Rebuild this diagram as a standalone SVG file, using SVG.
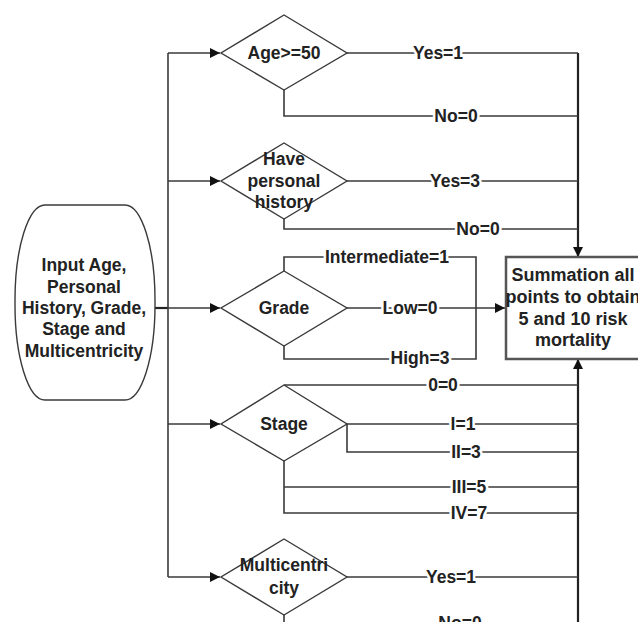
<svg xmlns="http://www.w3.org/2000/svg" width="638" height="622" viewBox="0 0 638 622">
<style>
  .bg{fill:#fff}
  .shape{fill:#fff;stroke:#3a3a3a;stroke-width:1.4}
  .box{fill:#fff;stroke:#555;stroke-width:2.5}
  .ln{fill:none;stroke:#3a3a3a;stroke-width:1.6}
  .bus{fill:none;stroke:#222;stroke-width:2.2}
  text{font-family:"Liberation Sans",Arial,sans-serif;font-weight:bold;font-size:17.5px;fill:#222;text-anchor:middle}
  .lbl{paint-order:stroke;stroke:#fff;stroke-width:5px;stroke-linejoin:round}
  .big{font-size:18px}
</style>
<defs>
  <marker id="arr" viewBox="0 0 10 10" refX="10" refY="5" markerWidth="10" markerHeight="10" markerUnits="userSpaceOnUse" orient="auto">
    <path d="M0,0 L10,5 L0,10 z" fill="#111"/>
  </marker>
</defs>
<rect class="bg" x="0" y="0" width="638" height="622"/>

<g id="connectors">
  <path class="bus" d="M155,308 H168"/>
  <path class="ln" d="M168,53 V577"/>
  <path class="ln" d="M168,53 H220" marker-end="url(#arr)"/>
  <path class="ln" d="M168,181 H220" marker-end="url(#arr)"/>
  <path class="ln" d="M168,308 H220" marker-end="url(#arr)"/>
  <path class="ln" d="M168,424 H220" marker-end="url(#arr)"/>
  <path class="ln" d="M168,577 H220" marker-end="url(#arr)"/>
  <path class="bus" d="M578,53 V257" marker-end="url(#arr)"/>
  <path class="bus" d="M578,630 V359" marker-end="url(#arr)"/>
  <path class="ln" d="M347,53 H578"/>
  <path class="ln" d="M284,90 V116 H578"/>
  <path class="ln" d="M347,181 H578"/>
  <path class="ln" d="M284,219 V229 H578"/>
  <path class="ln" d="M284,271 V257 H476 V359 H284 V346"/>
  <path class="ln" d="M347,308 H505" marker-end="url(#arr)"/>
  <path class="ln" d="M284,385 H578"/>
  <path class="ln" d="M347,424 H578"/>
  <path class="ln" d="M347,424 V452 H578"/>
  <path class="ln" d="M284,461 V513 H578"/>
  <path class="ln" d="M284,487 H578"/>
  <path class="ln" d="M347,577 H578"/>
  <path class="ln" d="M284,615 V625 H578"/>
  <text class="lbl" x="438" y="59">Yes=1</text>
  <text class="lbl" x="456" y="122">No=0</text>
  <text class="lbl" x="455" y="187">Yes=3</text>
  <text class="lbl" x="478" y="235">No=0</text>
  <text class="lbl" x="387" y="263">Intermediate=1</text>
  <text class="lbl" x="410" y="314">Low=0</text>
  <text class="lbl" x="420" y="364">High=3</text>
  <text class="lbl" x="443" y="391">0=0</text>
  <text class="lbl" x="463" y="430">I=1</text>
  <text class="lbl" x="466" y="458">II=3</text>
  <text class="lbl" x="469" y="493">III=5</text>
  <text class="lbl" x="469" y="519">IV=7</text>
  <text class="lbl" x="451" y="583">Yes=1</text>
  <text class="lbl" x="460" y="629">No=0</text>
</g>

<g id="input">
  <rect class="shape" x="15" y="205" width="140" height="195" rx="30" ry="95"/>
  <text x="84" y="271">Input Age,</text>
  <text x="84" y="293">Personal</text>
  <text x="84" y="314">History, Grade,</text>
  <text x="84" y="335">Stage and</text>
  <text x="84" y="357">Multicentricity</text>
</g>

<g id="age">
  <polygon class="shape" points="284,15 347,53 284,90 221,53"/>
  <text x="284" y="59">Age&gt;=50</text>
</g>

<g id="history">
  <polygon class="shape" points="284,143 347,181 284,219 221,181"/>
  <text x="284" y="165">Have</text>
  <text x="284" y="187">personal</text>
  <text x="284" y="208">history</text>
</g>

<g id="grade">
  <polygon class="shape" points="284,271 347,308 284,346 221,308"/>
  <text x="284" y="314">Grade</text>
</g>

<g id="stage">
  <polygon class="shape" points="284,385 347,424 284,461 221,424"/>
  <text x="284" y="430">Stage</text>
</g>

<g id="multicentricity">
  <polygon class="shape" points="284,539 347,577 284,615 221,577"/>
  <text x="284" y="571">Multicentri</text>
  <text x="284" y="594">city</text>
</g>

<g id="summation">
  <rect class="box" x="506" y="257" width="150" height="102"/>
  <text class="big" x="573" y="281">Summation all</text>
  <text class="big" x="573" y="303">points to obtain</text>
  <text class="big" x="573" y="325">5 and 10 risk</text>
  <text class="big" x="573" y="346">mortality</text>
</g>
</svg>
